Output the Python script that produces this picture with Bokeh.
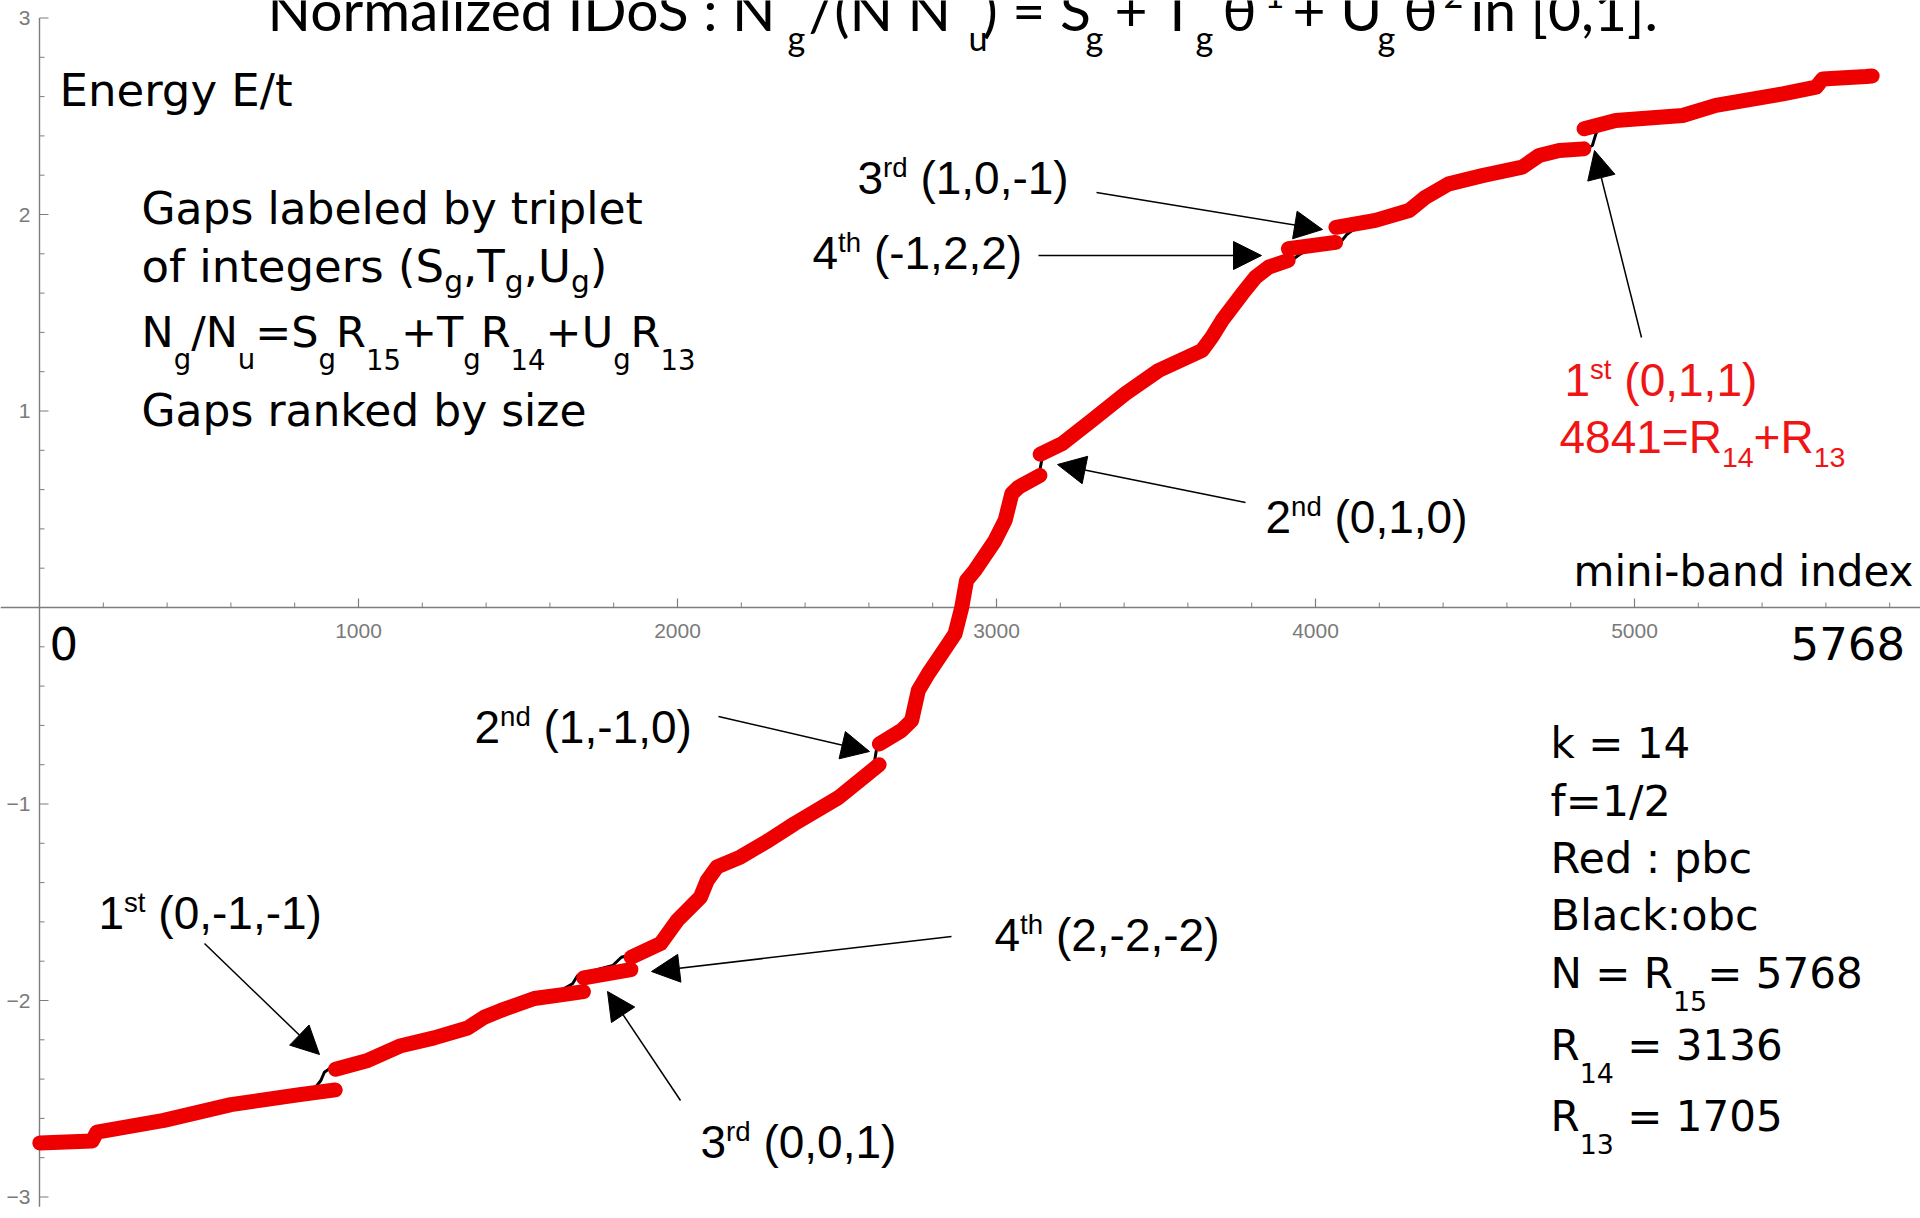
from bokeh.plotting import figure
from bokeh.models import Range1d, Arrow, NormalHead
from bokeh.core.properties import value
from bokeh.embed import file_html
from bokeh.resources import INLINE

# ---------------- pbc spectrum (red): one pair of lists per band cluster ----------------
band1_idx = [1, 165, 180, 390, 600, 810, 927]
band1_e = [-2.725, -2.715, -2.67, -2.61, -2.53, -2.48, -2.455]
band2_idx = [928, 1029, 1133, 1237, 1342, 1394, 1447, 1551, 1640, 1705]
band2_e = [-2.35, -2.305, -2.23, -2.19, -2.14, -2.085, -2.05, -1.99, -1.97, -1.955]
band3_idx = [1706, 1854]
band3_e = [-1.885, -1.843]
band4_idx = [1855, 1947, 1999, 2072, 2093, 2124, 2197, 2285, 2367, 2505, 2632]
band4_e = [-1.78, -1.71, -1.593, -1.474, -1.39, -1.32, -1.27, -1.186, -1.10, -0.967, -0.80]
band5_idx = [2633, 2702, 2734, 2755, 2786, 2849, 2870, 2891, 2906, 2932, 2995, 3027, 3048, 3069, 3136]
band5_e = [-0.694, -0.626, -0.575, -0.422, -0.337, -0.185, -0.134, 0.0, 0.137, 0.188, 0.34, 0.443,
           0.579, 0.612, 0.672]
band6_idx = [3137, 3205, 3299, 3404, 3508, 3644, 3675, 3707, 3770, 3812, 3853, 3914]
band6_e = [0.78, 0.833, 0.952, 1.088, 1.206, 1.308, 1.376, 1.46, 1.596, 1.681, 1.732, 1.766]
band7_idx = [3915, 4063]
band7_e = [1.826, 1.858]
band8_idx = [4064, 4188, 4293, 4345, 4418, 4523, 4648, 4701, 4764, 4841]
band8_e = [1.935, 1.97, 2.02, 2.088, 2.156, 2.198, 2.241, 2.30, 2.326, 2.334]
band9_idx = [4842, 4941, 5151, 5255, 5465, 5569, 5590, 5726, 5745]
band9_e = [2.436, 2.478, 2.504, 2.555, 2.614, 2.648, 2.69, 2.702, 2.705]

# ---------------- obc spectrum (black): edge states crossing each gap ----------------
gap_idx = [927, 1705, 1854, 2632, 3136, 3914, 4063, 4841]
edge1_idx, edge1_e = [861, 882, 893, 908], [-2.45, -2.407, -2.365, -2.348]
edge2_idx, edge2_e = [1643, 1671, 1687, 1698], [-1.94, -1.915, -1.873, -1.865]
edge3_idx, edge3_e = [1797, 1824, 1845], [-1.822, -1.78, -1.771]
edge4_idx, edge4_e = [2618, 2624], [-0.78, -0.72]
edge5_idx, edge5_e = [3136, 3143], [0.70, 0.76]
edge6_idx, edge6_e = [3932, 3953, 3963], [1.775, 1.80, 1.808]
edge7_idx, edge7_e = [4083, 4099, 4115], [1.868, 1.90, 1.918]
edge8_idx, edge8_e = [4847, 4868, 4879, 4884], [2.334, 2.351, 2.41, 2.427]

# ---------------- axes ----------------
x_major = [1000, 2000, 3000, 4000, 5000]
x_major_labels = ["1000", "2000", "3000", "4000", "5000"]
x_minor = [v for v in range(200, 5900, 200) if v % 1000]
y_major = [-3, -2, -1, 1, 2, 3]
y_major_labels = ["\u22123", "\u22122", "\u22121", "1", "2", "3"]
y_minor = [round(-3 + 0.2 * k, 1) for k in range(31) if (k % 5)]

pbc_idx = [band1_idx, band2_idx, band3_idx, band4_idx, band5_idx, band6_idx, band7_idx, band8_idx, band9_idx]
pbc_e = [band1_e, band2_e, band3_e, band4_e, band5_e, band6_e, band7_e, band8_e, band9_e]
edges = [(edge1_idx, edge1_e), (edge2_idx, edge2_e), (edge3_idx, edge3_e), (edge4_idx, edge4_e),
         (edge5_idx, edge5_e), (edge6_idx, edge6_e), (edge7_idx, edge7_e), (edge8_idx, edge8_e)]

# obc curve: pbc knots, with the knots around each gap replaced by the edge states
knots = [(i, e) for xs, ys in zip(pbc_idx, pbc_e) for i, e in zip(xs, ys)]
for g, (ei, ee) in zip(gap_idx, edges):
    lo, hi = min(ei[0], g), max(ei[-1], g + 1)
    knots = [(i, e) for i, e in knots if not (lo <= i <= hi)]
    knots += list(zip(ei, ee))
knots.sort()
obc_idx = [k[0] for k in knots]
obc_e = [k[1] for k in knots]

# ---------------- page geometry (pixel <-> data) ----------------
W, H = 1920, 1218
X0_PX, X_SCALE = 39.0, 0.319      # px of index 0, px per index
Y0_PX, Y_SCALE = 607.0, 196.5     # px of E=0, px per unit E
BL = 0.40                         # baseline correction, in em


def px2x(px):
    return (px - X0_PX) / X_SCALE


def py2y(py):
    return (Y0_PX - py) / Y_SCALE


p = figure(width=W, height=H, output_backend="svg", toolbar_location=None,
           x_range=Range1d(px2x(0), px2x(W)), y_range=Range1d(py2y(H), py2y(0)),
           x_axis_location=None, y_axis_location=None, min_border=0)
p.grid.visible = False
p.outline_line_color = None
p.background_fill_color = "white"
p.border_fill_color = "white"

AX = "#7d7d7d"
# axis lines crossing at the origin
p.segment(x0=[px2x(0)], y0=[0], x1=[px2x(W)], y1=[0], line_color=AX, line_width=1.4)
p.segment(x0=[0], y0=[-3.05], x1=[0], y1=[3.0], line_color=AX, line_width=1.4)
# ticks (pointing up from the x axis, right from the y axis)
p.segment(x0=x_major, y0=[0] * len(x_major), x1=x_major, y1=[9 / Y_SCALE] * len(x_major),
          line_color=AX, line_width=1.2)
p.segment(x0=x_minor, y0=[0] * len(x_minor), x1=x_minor, y1=[5 / Y_SCALE] * len(x_minor),
          line_color=AX, line_width=1.0)
p.segment(x0=[0] * len(y_major), y0=y_major, x1=[9 / X_SCALE] * len(y_major), y1=y_major,
          line_color=AX, line_width=1.2)
p.segment(x0=[0] * len(y_minor), y0=y_minor, x1=[5 / X_SCALE] * len(y_minor), y1=y_minor,
          line_color=AX, line_width=1.0)
p.text(x=x_major, y=[py2y(630)] * len(x_major), text=x_major_labels, text_font=value("Liberation Sans"),
       text_font_size=value("21px"), text_color="#7a7a7a", text_align="center", text_baseline="middle")
p.text(x=[px2x(30)] * len(y_major), y=y_major, text=y_major_labels, text_font=value("Liberation Sans"),
       text_font_size=value("21px"), text_color="#7a7a7a", text_align="right", text_baseline="middle")

# spectra: obc thin black underneath, pbc thick red on top
p.line(obc_idx, obc_e, line_color="black", line_width=3)
p.multi_line(xs=pbc_idx, ys=pbc_e, line_color="#ee0000", line_width=15,
             line_cap="round", line_join="round")

# ---------------- text ----------------
W_DEJAVU = {' ': .318, '(': .390, ')': .390, ',': .318, '-': .361, '.': .318, '/': .337, ':': .337,
            '=': .838, '+': .838, 'A': .684, 'B': .686, 'D': .770, 'E': .632, 'G': .775, 'N': .748,
            'R': .695, 'S': .635, 'T': .611, 'U': .732, 'a': .613, 'b': .635, 'c': .550, 'd': .635,
            'e': .615, 'f': .352, 'g': .635, 'i': .278, 'k': .579, 'l': .278, 'm': .974, 'n': .634,
            'o': .612, 'p': .635, 'r': .411, 's': .521, 't': .392, 'u': .634, 'x': .592, 'y': .592,
            'z': .525}
for d in "0123456789":
    W_DEJAVU[d] = .636
W_ARIAL = {' ': .278, '(': .333, ')': .333, ',': .278, '-': .333, '=': .584, '+': .584, 'R': .722,
           's': .5, 't': .278, 'r': .333, 'd': .556, 'n': .556, 'h': .556}
for d in "0123456789":
    W_ARIAL[d] = .556


def put(txt, x, base, font, s, color):
    p.text(x=[px2x(x)], y=[py2y(base - BL * s)], text=[txt], text_font=value(font),
           text_font_size=value(f"{s:.1f}px"), text_color=color,
           text_align="left", text_baseline="alphabetic")


def runs(pieces, x0, base, font, size, color, widths, sub=(0.62, 0.42), sup=(0.6, -0.38)):
    x = x0
    for txt, kind in pieces:
        if kind == "sub":
            s, dy = size * sub[0], size * sub[1]
        elif kind == "sup":
            s, dy = size * sup[0], size * sup[1]
        else:
            s, dy = size, 0.0
        lead = len(txt) - len(txt.lstrip(" "))
        x += s * widths[" "] * lead
        txt = txt.lstrip(" ")
        put(txt, x, base + dy, font, s, color)
        x += s * sum(widths.get(c, 0.6) for c in txt)


def placed(pieces, base, font, size, color):
    for txt, x, kind in pieces:
        s, dy = size, 0.0
        if kind == "sub":
            s, dy = size * 0.6, 20
        elif kind == "sup":
            s, dy = size * 0.6, -22
        put(txt, x, base + dy, font, s, color)


# title, partly above the top edge
placed([("Normalized IDoS : N", 267, "n"), ("g", 787, "sub"), ("/(N N", 808, "n"), ("u", 968, "sub"),
        (") = S", 982, "n"), ("g", 1085, "sub"), ("+ T", 1114, "n"), ("g", 1195, "sub"),
        ("\u03b8", 1222, "n"), ("1", 1264, "sup"), ("+ U", 1292, "n"), ("g", 1377, "sub"),
        ("\u03b8", 1403, "n"), ("2", 1443, "sup"), ("in [0,1].", 1470, "n")],
       31, "Lato", 57, "black")

CS = "DejaVu Sans"
runs([("Energy E/t", "n")], 59, 108, CS, 45, "black", W_DEJAVU)
runs([("mini-band index", "n")], 1573, 588, CS, 42, "black", W_DEJAVU)
runs([("0", "n")], 49, 661, CS, 45, "black", W_DEJAVU)
runs([("5768", "n")], 1790, 661, CS, 45, "black", W_DEJAVU)

runs([("Gaps labeled by triplet", "n")], 141, 226, CS, 44, "black", W_DEJAVU)
runs([("of integers (S", "n"), ("g", "sub"), (",T", "n"), ("g", "sub"), (",U", "n"), ("g", "sub"),
      (")", "n")], 141, 284, CS, 45, "black", W_DEJAVU, sub=(0.66, 0.2))
runs([("N", "n"), ("g", "sub"), ("/N", "n"), ("u", "sub"), ("=S", "n"), ("g", "sub"), ("R", "n"),
      ("15", "sub"), ("+T", "n"), ("g", "sub"), ("R", "n"), ("14", "sub"), ("+U", "n"), ("g", "sub"),
      ("R", "n"), ("13", "sub")], 141, 349, CS, 43, "black", W_DEJAVU, sub=(0.64, 0.48))
runs([("Gaps ranked by size", "n")], 141, 428, CS, 44, "black", W_DEJAVU)

runs([("k = 14", "n")], 1550, 760, CS, 42, "black", W_DEJAVU)
runs([("f=1/2", "n")], 1550, 818, CS, 43, "black", W_DEJAVU)
runs([("Red : pbc", "n")], 1550, 875, CS, 43, "black", W_DEJAVU)
runs([("Black:obc", "n")], 1550, 932, CS, 43, "black", W_DEJAVU)
runs([("N = R", "n"), ("15", "sub"), ("= 5768", "n")], 1550, 990, CS, 42, "black", W_DEJAVU,
     sub=(0.64, 0.5))
runs([("R", "n"), ("14", "sub"), (" = 3136", "n")], 1550, 1062, CS, 42, "black", W_DEJAVU,
     sub=(0.64, 0.5))
runs([("R", "n"), ("13", "sub"), (" = 1705", "n")], 1550, 1133, CS, 42, "black", W_DEJAVU,
     sub=(0.64, 0.5))

AR = "Liberation Sans"
RED = "#f01515"
runs([("1", "n"), ("st", "sup"), (" (0,1,1)", "n")], 1564, 398, AR, 46, RED, W_ARIAL)
runs([("4841=R", "n"), ("14", "sub"), ("+R", "n"), ("13", "sub")], 1559, 455, AR, 46, RED, W_ARIAL,
     sub=(0.62, 0.3))
labels = [
    ("3", "rd", " (1,0,-1)", 857, 196),
    ("4", "th", " (-1,2,2)", 812, 271),
    ("2", "nd", " (0,1,0)", 1265, 535),
    ("2", "nd", " (1,-1,0)", 474, 745),
    ("1", "st", " (0,-1,-1)", 98, 931),
    ("4", "th", " (2,-2,-2)", 994, 953),
    ("3", "rd", " (0,0,1)", 700, 1160),
]
for rank, suf, trip, x0, base in labels:
    runs([(rank, "n"), (suf, "sup"), (trip, "n")], x0, base, AR, 46, "black", W_ARIAL)

# arrows from each label to its gap (tail px -> tip px)
arrows = [
    ((1096, 192), (1322, 229)),
    ((1038, 255), (1261, 255)),
    ((1641, 337), (1594, 150)),
    ((1245, 502), (1057, 464)),
    ((718, 716), (869, 751)),
    ((204, 943), (319, 1054)),
    ((951, 936), (651, 971)),
    ((680, 1100), (607, 991)),
]
for (tx, ty), (hx, hy) in arrows:
    p.add_layout(Arrow(x_start=px2x(tx), y_start=py2y(ty), x_end=px2x(hx), y_end=py2y(hy),
                       line_color="black", line_width=1.5,
                       end=NormalHead(size=28, fill_color="black", line_color="black")))

open("out.html", "w").write(file_html(p, INLINE))
